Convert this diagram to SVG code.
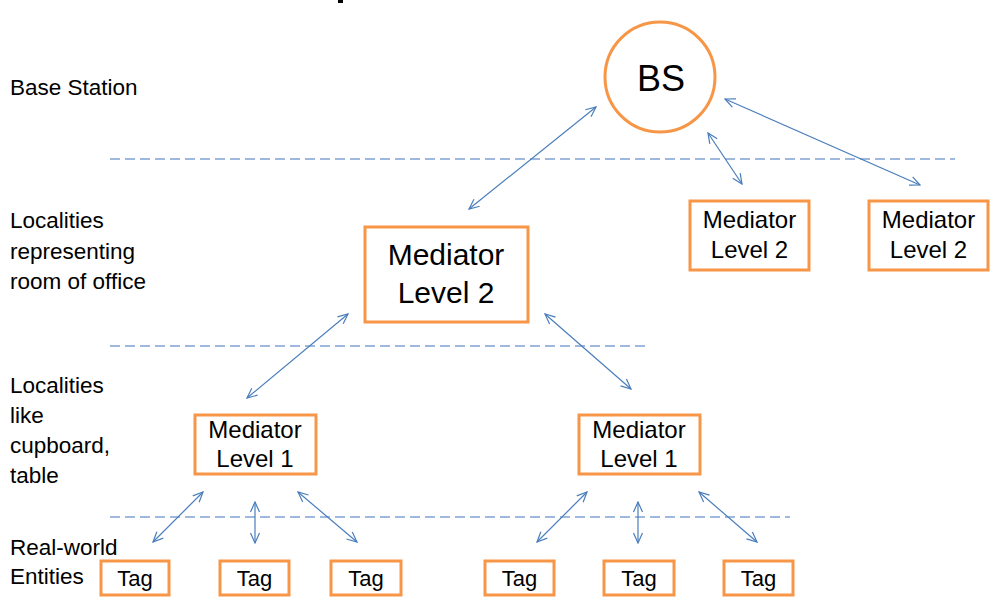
<svg xmlns="http://www.w3.org/2000/svg" width="999" height="611" viewBox="0 0 999 611">
<style>
text{font-family:"Liberation Sans",Arial,sans-serif;fill:#000}
.lbl{font-size:22.5px}
.box{fill:#fff;stroke:#F79646;stroke-width:3}
.c{text-anchor:middle}
.m{font-size:24px}
.big{font-size:30px}
.tag{font-size:22px}
.dash{stroke:#7FA3D2;stroke-width:1.3;stroke-dasharray:10 5;fill:none}
.arr{stroke:#4A7EBB;stroke-width:1.2;fill:none;marker-start:url(#ah);marker-end:url(#ah)}
</style>
<defs>
<marker id="ah" viewBox="0 0 12 12" refX="11" refY="6" markerWidth="12" markerHeight="12" markerUnits="userSpaceOnUse" orient="auto-start-reverse">
<path d="M1,1.5 L11,6 L1,10.5" fill="none" stroke="#4A7EBB" stroke-width="1.2"/>
</marker>
</defs>
<rect width="999" height="611" fill="#fff"/>
<rect x="338" y="0" width="5" height="3" fill="#000"/>
<g id="labels">
<text class="lbl" x="10" y="95">Base Station</text>
<text class="lbl" x="10" y="228">Localities</text>
<text class="lbl" x="10" y="259">representing</text>
<text class="lbl" x="10" y="289">room of office</text>
<text class="lbl" x="10" y="393">Localities</text>
<text class="lbl" x="10" y="423">like</text>
<text class="lbl" x="10" y="453">cupboard,</text>
<text class="lbl" x="10" y="483">table</text>
<text class="lbl" x="10" y="555">Real-world</text>
<text class="lbl" x="10" y="584">Entities</text>
</g>
<g id="separators">
<line class="dash" x1="110" y1="159" x2="955" y2="159"/>
<line class="dash" x1="110" y1="346" x2="648" y2="346"/>
<line class="dash" x1="110" y1="517" x2="790" y2="517"/>
</g>
<g id="bs">
<circle cx="660" cy="77" r="55" class="box"/>
<text class="c" x="661" y="91" style="font-size:36px">BS</text>
</g>
<g id="m2main">
<rect class="box" x="365" y="227" width="163" height="95"/>
<text class="c big" x="446" y="265">Mediator</text>
<text class="c big" x="446" y="303">Level 2</text>
</g>
<g id="m2a">
<rect class="box" x="690" y="201" width="119" height="69"/>
<text class="c m" x="749.5" y="228">Mediator</text>
<text class="c m" x="749.5" y="258">Level 2</text>
</g>
<g id="m2b">
<rect class="box" x="869" y="201" width="119" height="69"/>
<text class="c m" x="928.5" y="228">Mediator</text>
<text class="c m" x="928.5" y="258">Level 2</text>
</g>
<g id="m1a">
<rect class="box" x="195" y="415" width="121" height="59"/>
<text class="c m" x="255" y="438">Mediator</text>
<text class="c m" x="255" y="467">Level 1</text>
</g>
<g id="m1b">
<rect class="box" x="579" y="415" width="121" height="59"/>
<text class="c m" x="639" y="438">Mediator</text>
<text class="c m" x="639" y="467">Level 1</text>
</g>
<g id="tag1"><rect class="box" x="101" y="561" width="68" height="34"/><text class="c tag" x="135" y="586">Tag</text></g>
<g id="tag2"><rect class="box" x="220" y="561" width="69" height="34"/><text class="c tag" x="254.5" y="586">Tag</text></g>
<g id="tag3"><rect class="box" x="331" y="561" width="70" height="34"/><text class="c tag" x="366" y="586">Tag</text></g>
<g id="tag4"><rect class="box" x="485" y="561" width="69" height="34"/><text class="c tag" x="519.5" y="586">Tag</text></g>
<g id="tag5"><rect class="box" x="604" y="561" width="70" height="34"/><text class="c tag" x="639" y="586">Tag</text></g>
<g id="tag6"><rect class="box" x="724" y="561" width="69" height="34"/><text class="c tag" x="758.5" y="586">Tag</text></g>
<g id="connectors">
<line class="arr" x1="596" y1="107" x2="469" y2="209"/>
<line class="arr" x1="708" y1="133" x2="742" y2="184"/>
<line class="arr" x1="725" y1="99" x2="920" y2="185"/>
<line class="arr" x1="348" y1="314" x2="247" y2="398"/>
<line class="arr" x1="545" y1="314" x2="631" y2="389"/>
<line class="arr" x1="203" y1="492" x2="153" y2="542"/>
<line class="arr" x1="255" y1="502" x2="255" y2="543"/>
<line class="arr" x1="298" y1="492" x2="357" y2="542"/>
<line class="arr" x1="587" y1="492" x2="537" y2="542"/>
<line class="arr" x1="638" y1="502" x2="638" y2="543"/>
<line class="arr" x1="699" y1="492" x2="757" y2="542"/>
</g>
</svg>
